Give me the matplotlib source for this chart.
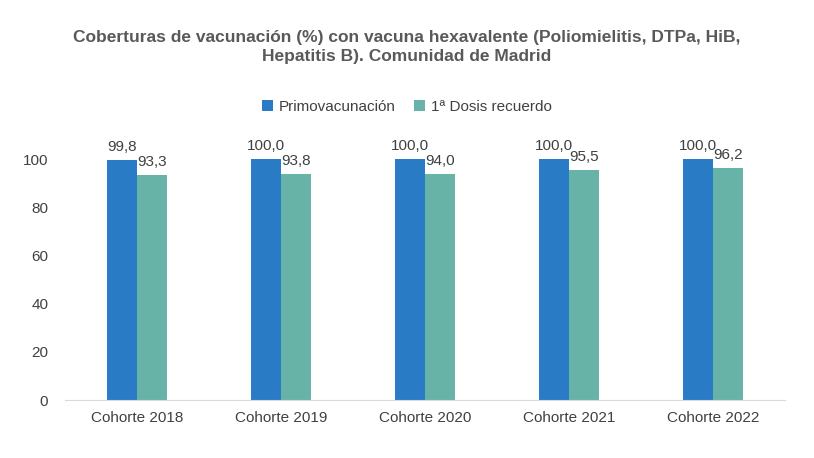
import matplotlib
matplotlib.use("Agg")
import matplotlib.pyplot as plt
import numpy as np

plt.rcParams["font.family"] = "Liberation Sans"

categories = ["Cohorte 2018", "Cohorte 2019", "Cohorte 2020", "Cohorte 2021", "Cohorte 2022"]
primo = [99.8, 100.0, 100.0, 100.0, 100.0]
recuerdo = [93.3, 93.8, 94.0, 95.5, 96.2]
series_names = ["Primovacunación", "1ª Dosis recuerdo"]
yticks = [0, 20, 40, 60, 80, 100]

fig = plt.figure(figsize=(8.14, 4.58), dpi=100)
ax = fig.add_axes([65/814, 1-400/458, 720/814, (400-135)/458])
x = np.arange(len(categories))
w = 0.21
b1 = ax.bar(x - w/2, primo, w, color="#2a7bc6", label=series_names[0])
b2 = ax.bar(x + w/2, recuerdo, w, color="#67b3a8", label=series_names[1])
for bars in (b1, b2):
    for r in bars:
        ax.text(r.get_x() + r.get_width()/2, r.get_height() + 2.5,
                f"{r.get_height():.1f}".replace(".", ","),
                ha="center", va="bottom", fontsize=11, color="#404040")
ax.set_xlim(-0.5, len(categories) - 0.5)
ax.set_ylim(0, 110)
ax.set_yticks(yticks)
ax.set_xticks(x)
ax.set_xticklabels(categories)
ax.tick_params(axis="both", length=0, labelsize=11, labelcolor="#404040")
ax.tick_params(axis="y", pad=12)
ax.tick_params(axis="x", pad=8)
for s in ["top", "right", "left"]:
    ax.spines[s].set_visible(False)
ax.spines["bottom"].set_color("#d9d9d9")
fig.text(0.5, 1-47/458, "Coberturas de vacunación (%) con vacuna hexavalente (Poliomielitis, DTPa, HiB,\nHepatitis B). Comunidad de Madrid",
         ha="center", va="center", fontsize=12.5, fontweight="bold", color="#595959", linespacing=1.3)
fig.legend(loc="center", bbox_to_anchor=(0.5, 1-107/458), ncol=2, frameon=False,
           fontsize=11, handlelength=0.7, handleheight=0.7, columnspacing=1.2, handletextpad=0.4,
           labelcolor="#404040")
fig.savefig("out.png", dpi=100)
